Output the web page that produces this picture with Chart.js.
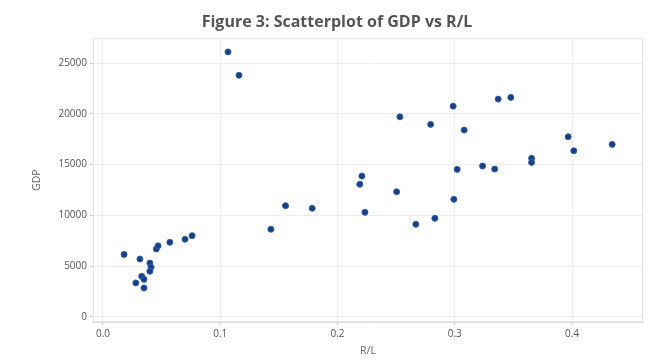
<!DOCTYPE html>
<html>
<head>
<meta charset="utf-8">
<script src="https://cdn.jsdelivr.net/npm/chart.js@4"></script>
<style>
    html, body { margin: 0; padding: 0; background: #fff; }
    #wrap { width: 660px; height: 360px; position: relative; }
</style>
</head>
<body>
<div id="wrap"><canvas id="gdpChart"></canvas></div>
<script>
// R/L ratio (x) and GDP (y)
const rlValues = [
    0.018, 0.0315, 0.040, 0.041, 0.040, 0.0455, 0.047, 0.057, 0.070, 0.076,
    0.028, 0.033, 0.035, 0.035,
    0.1066, 0.116, 0.1557, 0.1784, 0.1432,
    0.2986, 0.2532, 0.2794, 0.308, 0.302, 0.3237, 0.334, 0.2208, 0.219, 0.2504,
    0.2992, 0.2234, 0.283, 0.2668, 0.337, 0.3478, 0.3967, 0.4015, 0.4342, 0.3655, 0.3655
];
const gdpValues = [
    6150, 5700, 5300, 4900, 4500, 6700, 7000, 7350, 7650, 8000,
    3350, 4000, 3700, 2850,
    26100, 23800, 10950, 10700, 8630,
    20760, 19710, 18960, 18400, 14530, 14860, 14560, 13870, 13060, 12330,
    11580, 10300, 9710, 9120, 21450, 21620, 17740, 16360, 16990, 15620, 15220
];
const xTicks = [0.0, 0.1, 0.2, 0.3, 0.4];
const yTicks = [0, 5000, 10000, 15000, 20000, 25000];

const points = rlValues.map((x, i) => ({ x: x, y: gdpValues[i] }));

// light frame around the whole plot area (matplotlib style spines)
const frame = {
    id: 'frame',
    beforeDatasetsDraw(chart) {
        const a = chart.chartArea, ctx = chart.ctx;
        ctx.save();
        ctx.strokeStyle = '#e2e2e2';
        ctx.lineWidth = 1;
        ctx.strokeRect(a.left + 0.5, a.top + 0.5, a.right - a.left - 1, a.bottom - a.top - 1);
        ctx.restore();
    }
};

const tickFont = { family: "'Open Sans', sans-serif", size: 10 };

new Chart(document.getElementById('gdpChart'), {
    type: 'scatter',
    data: {
        datasets: [{
            label: 'GDP',
            data: points,
            backgroundColor: '#1c3f80',
            borderColor: '#2d5fb0',
            borderWidth: 1,
            pointRadius: 3,
            pointHoverRadius: 4
        }]
    },
    options: {
        responsive: true,
        maintainAspectRatio: false,
        animation: false,
        layout: { padding: { left: 31, right: 17, top: 2, bottom: 3 } },
        plugins: {
            legend: { display: false },
            tooltip: { enabled: false },
            title: {
                display: true,
                text: 'Figure 3: Scatterplot of GDP vs R/L',
                color: '#555',
                font: { family: "'Open Sans', sans-serif", size: 16, weight: 'bold' },
                padding: { top: 11, bottom: 6 }
            }
        },
        scales: {
            x: {
                type: 'linear',
                min: -0.0085,
                max: 0.4605,
                afterBuildTicks: s => { s.ticks = xTicks.map(v => ({ value: v })); },
                afterFit: s => { s.height = 35; },
                ticks: {
                    color: '#555',
                    font: tickFont,
                    padding: 3,
                    callback: v => v.toFixed(1)
                },
                grid: { color: '#ececec', tickLength: 3, tickColor: '#ccc' },
                border: { color: '#e2e2e2' },
                title: {
                    display: true,
                    text: 'R/L',
                    color: '#666',
                    font: { family: "'Open Sans', sans-serif", size: 10.5 },
                    padding: { top: 0, bottom: 0 }
                }
            },
            y: {
                type: 'linear',
                min: -500,
                max: 27450,
                afterBuildTicks: s => { s.ticks = yTicks.map(v => ({ value: v })); },
                afterFit: s => { s.width = 62; },
                ticks: {
                    color: '#555',
                    font: tickFont,
                    padding: 3,
                    callback: v => String(v)
                },
                grid: { color: '#ececec', tickLength: 3, tickColor: '#ccc' },
                border: { color: '#e2e2e2' },
                title: {
                    display: true,
                    text: 'GDP',
                    color: '#666',
                    font: { family: "'Open Sans', sans-serif", size: 10.5 },
                    padding: { top: 0, bottom: 6 }
                }
            }
        }
    },
    plugins: [frame]
});
</script>
</body>
</html>
